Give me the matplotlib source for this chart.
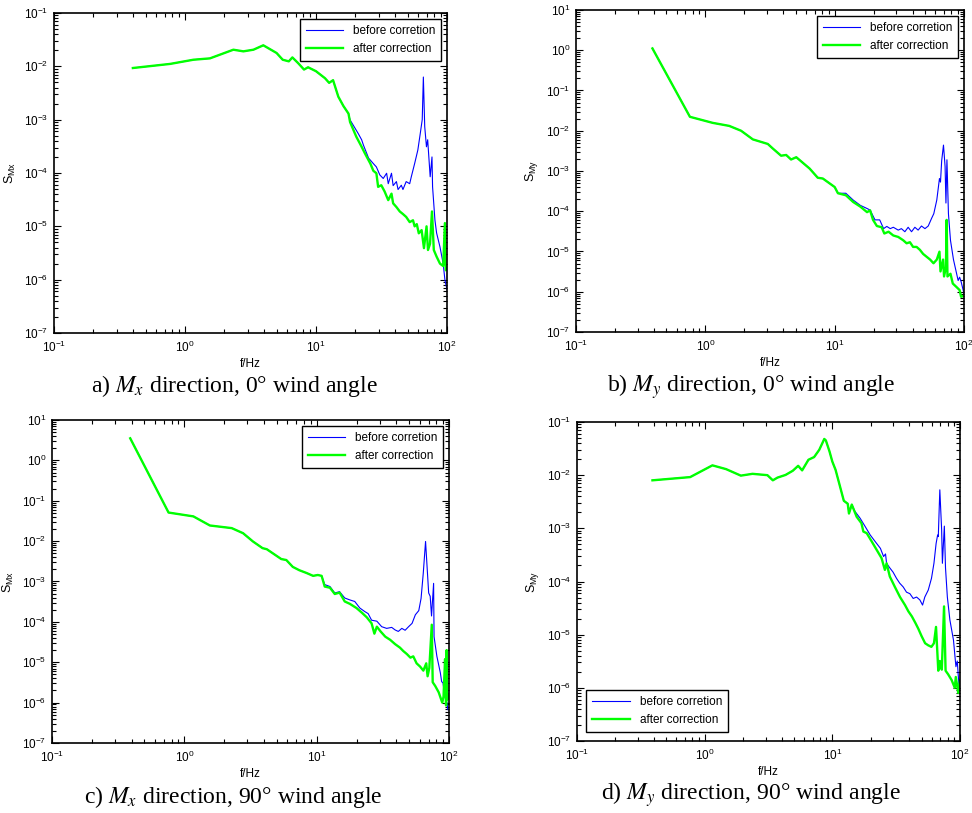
import matplotlib
matplotlib.use("Agg")
import numpy as np
import matplotlib.pyplot as plt
from matplotlib.ticker import LogLocator, NullFormatter

plt.rcParams["font.family"] = ["Liberation Sans", "DejaVu Sans"]
plt.rcParams["mathtext.fontset"] = "custom"
plt.rcParams["mathtext.rm"] = "Liberation Sans"
plt.rcParams["mathtext.it"] = "Liberation Sans:italic"
plt.rcParams["mathtext.bf"] = "Liberation Sans:bold"

# ---- panel a: Mx, 0 deg ----
a_f_common = [0.40, 0.77, 1.16, 1.55, 2.34, 2.79, 3.33, 3.96, 5.0, 5.57, 6.2, 6.6,
              7.3, 8.1, 8.7, 10.0, 11.7, 12.6, 13.5, 14.8, 16.2, 17.7]
a_s_common = [0.0093, 0.0111, 0.0133, 0.0141, 0.0205, 0.0191, 0.0205, 0.0248, 0.0178,
              0.0133, 0.0124, 0.0147, 0.0115, 0.0087, 0.0096, 0.0081, 0.0060, 0.0049,
              0.0055, 0.0027, 0.0018, 0.0013]
a_f_after = [18.2, 20.3, 22.3, 23.7, 26.0, 27.4, 28.9, 29.8, 31.5, 33.4, 35.6, 37.7,
             38.8, 41.1, 43.6, 46.1, 48.8, 51.9, 55.0, 56.6, 58.8, 60.9, 64.0, 66.7,
             69.8, 71.6, 74.2, 76.8, 79.3, 83.3, 88.4, 93.5, 96.4, 97.8, 100.0]
a_s_after = [9.0e-4, 4.8e-4, 3.1e-4, 2.3e-4, 1.5e-4, 1.1e-4, 9.9e-5, 5.5e-5, 5.9e-5,
             4.5e-5, 3.1e-5, 4.1e-5, 2.7e-5, 2.3e-5, 1.9e-5, 1.7e-5, 1.5e-5, 1.2e-5,
             1.3e-5, 1.0e-5, 1.1e-5, 7.4e-6, 8.5e-6, 3.9e-6, 1.0e-5, 3.6e-6, 4.7e-6,
             1.9e-5, 3.6e-6, 2.7e-6, 2.0e-6, 1.8e-6, 1.15e-5, 1.5e-6, 1.6e-6]
a_f_before = [18.2, 21.0, 22.3, 23.0, 25.2, 27.4, 28.9, 30.7, 32.6, 34.6, 35.6, 37.7,
              38.8, 41.1, 42.3, 44.8, 46.1, 48.8, 51.9, 53.4, 56.6, 58.2, 59.9, 62.5,
              64.7, 66.0, 67.6, 69.7, 71.2, 74.4, 76.8, 77.6, 80.9, 83.3, 88.4, 93.5,
              96.4, 100.0]
a_s_before = [9.9e-4, 5.5e-4, 4.2e-4, 3.35e-4, 1.9e-4, 1.5e-4, 1.3e-4, 9.2e-5, 7.9e-5,
              9.9e-5, 6.3e-5, 9.9e-5, 5.8e-5, 6.9e-5, 4.9e-5, 5.9e-5, 4.9e-5, 6.9e-5,
              6.3e-5, 8.5e-5, 1.5e-4, 2.0e-4, 2.7e-4, 5.5e-4, 1.0e-3, 6.3e-3, 7.4e-4,
              3.1e-4, 4.2e-4, 8.5e-5, 2.0e-4, 5.5e-5, 1.3e-5, 7.5e-6, 4.1e-6, 2.0e-6,
              9.9e-7, 6.5e-7]

# ---- panel b: My, 0 deg ----
b_f_common = [0.39, 0.76, 1.14, 1.53, 1.89, 2.33, 3.04, 3.33, 3.85, 4.22, 4.6, 5.05,
              6.4, 7.4, 8.1, 10.0, 10.6]
b_s_common = [1.11, 0.0222, 0.0157, 0.0132, 0.0100, 0.0061, 0.0047, 0.0036, 0.0024,
              0.0025, 0.00193, 0.0022, 0.00115, 6.8e-4, 6.5e-4, 4.0e-4, 2.8e-4]
b_f_after = [12.2, 13.9, 15.8, 17.8, 18.8, 19.8, 21.2, 23.1, 24.2, 26.1, 28.4, 31.0,
             33.9, 36.0, 38.2, 40.4, 43.0, 45.6, 48.3, 51.4, 54.7, 58.1, 61.6, 64.6,
             65.8, 68.9, 70.1, 72.5, 73.4, 74.5, 78.6, 81.9, 87.7, 92.5, 94.9, 100.0]
b_s_after = [2.5e-4, 1.7e-4, 1.3e-4, 9.5e-5, 1.05e-4, 6.1e-5, 4.3e-5, 4.0e-5, 2.8e-5,
             3.1e-5, 2.5e-5, 2.3e-5, 1.9e-5, 1.6e-5, 1.7e-5, 1.3e-5, 1.3e-5, 1.1e-5,
             8.7e-6, 7.4e-6, 6.3e-6, 5.1e-6, 6.3e-6, 9.9e-6, 3.2e-6, 6.3e-6, 2.4e-6,
             4.1e-6, 6.1e-5, 2.4e-6, 2.8e-6, 1.6e-6, 1.3e-6, 1.1e-6, 7.5e-7, 8.0e-7]
b_f_before = [12.2, 13.9, 15.8, 17.8, 18.8, 20.5, 22.3, 23.9, 25.3, 26.9, 28.4, 31.0,
              32.8, 34.9, 37.0, 39.3, 41.7, 44.2, 46.9, 49.9, 52.9, 56.2, 58.4, 61.6,
              64.6, 65.8, 67.2, 69.4, 71.4, 72.5, 73.8, 75.8, 78.6, 82.9, 87.7, 90.1,
              92.5, 94.9, 100.0]
b_s_before = [2.8e-4, 1.9e-4, 1.4e-4, 1.17e-4, 1.07e-4, 6.1e-5, 6.1e-5, 3.7e-5, 4.2e-5,
              3.7e-5, 4.0e-5, 3.4e-5, 3.7e-5, 3.1e-5, 4.0e-5, 3.1e-5, 4.0e-5, 3.4e-5,
              4.3e-5, 3.7e-5, 4.3e-5, 6.7e-5, 8.7e-5, 1.9e-4, 6.5e-4, 5.3e-4, 1.8e-3,
              4.4e-3, 1.3e-3, 1.6e-4, 1.9e-3, 8.7e-5, 1.9e-5, 6.3e-6, 2.8e-6, 1.9e-6,
              2.3e-6, 1.8e-6, 9.0e-7]

# ---- panel c: Mx, 90 deg ----
c_f_common = [0.39, 0.76, 1.17, 1.56, 2.28, 2.78, 3.3, 3.9, 4.2, 5.4, 5.9, 6.6, 7.4,
              8.4, 9.4, 10.2, 10.9]
c_s_common = [3.52, 0.051, 0.041, 0.0244, 0.021, 0.0157, 0.0098, 0.0067, 0.0063,
              0.0036, 0.0034, 0.0023, 0.0019, 0.00162, 0.00138, 0.00145, 0.00138]
c_f_after = [11.5, 12.6, 13.7, 14.9, 16.3, 17.8, 20.0, 21.9, 23.9, 26.0, 27.3, 28.5,
             30.4, 33.0, 35.9, 39.2, 42.6, 45.1, 48.0, 51.1, 53.7, 56.9, 60.5, 64.0,
             67.3, 68.9, 71.0, 74.1, 75.3, 78.6, 83.6, 88.9, 90.9, 93.4, 95.0, 96.0,
             97.4, 100.0]
c_s_after = [7.5e-4, 7.0e-4, 4.9e-4, 5.3e-4, 3.2e-4, 2.8e-4, 2.2e-4, 1.7e-4, 1.3e-4,
             9.2e-5, 5.1e-5, 7.6e-5, 5.8e-5, 4.3e-5, 3.6e-5, 2.8e-5, 2.3e-5, 1.9e-5,
             1.6e-5, 1.3e-5, 1.4e-5, 9.4e-6, 7.8e-6, 6.2e-6, 9.4e-6, 4.5e-6, 7.2e-6,
             8.5e-5, 3.2e-6, 2.6e-6, 1.8e-6, 1.0e-6, 1.4e-6, 1.2e-5, 8.5e-7, 2.0e-5,
             1.2e-6, 1.6e-6]
c_f_before = [11.5, 12.6, 13.7, 14.9, 16.3, 17.8, 19.4, 21.2, 23.1, 24.5, 26.0, 28.5,
              31.0, 33.8, 36.9, 39.2, 41.4, 44.0, 46.6, 49.5, 52.6, 55.7, 59.1, 61.5,
              63.9, 66.5, 68.3, 70.2, 72.1, 73.8, 76.5, 77.1, 81.0, 86.0, 88.0, 90.0,
              93.2, 96.5, 98.0]
c_s_before = [8.4e-4, 7.5e-4, 5.2e-4, 5.6e-4, 3.9e-4, 3.5e-4, 3.2e-4, 2.2e-4, 1.8e-4,
              1.6e-4, 1.1e-4, 1.04e-4, 7.6e-5, 6.9e-5, 7.3e-5, 6.3e-5, 5.8e-5, 6.9e-5,
              6.2e-5, 7.6e-5, 9.2e-5, 1.5e-4, 1.9e-4, 3.8e-4, 1.6e-3, 9.8e-3, 2.3e-3,
              5.2e-4, 4.3e-4, 1.4e-4, 9.0e-4, 4.3e-5, 1.4e-5, 5.5e-6, 3.3e-6, 3.1e-6,
              1.4e-6, 1.0e-6, 6.7e-7]

# ---- panel d: My, 90 deg ----
d_f_common = [0.39, 0.77, 1.15, 1.47, 1.92, 2.37, 3.1, 3.42, 3.72, 4.3, 4.9, 5.4, 5.8,
              6.5, 7.2, 7.9, 8.65, 8.9, 9.5, 10.0, 10.6, 11.3, 12.3, 13.2, 13.5, 14.2]
d_s_common = [0.0080, 0.0092, 0.0153, 0.0130, 0.0098, 0.0106, 0.0100, 0.0080, 0.0090,
              0.0101, 0.0121, 0.0150, 0.0123, 0.0195, 0.0219, 0.030, 0.048, 0.045,
              0.028, 0.018, 0.0126, 0.0071, 0.0033, 0.0029, 0.0019, 0.0028]
d_f_after = [15.5, 16.9, 17.5, 18.6, 20.4, 22.3, 24.3, 25.8, 26.6, 28.2, 30.9, 33.9,
             37.1, 39.4, 42.0, 44.8, 47.1, 50.0, 53.3, 56.4, 59.7, 62.5, 64.9, 67.6,
             69.5, 72.0, 75.0, 77.1, 80.7, 86.0, 91.0, 92.7, 97.0, 100.0]
d_s_after = [1.65e-3, 1.25e-3, 8.7e-4, 8.1e-4, 5.6e-4, 3.9e-4, 2.75e-4, 1.65e-4, 2.2e-4,
             1.24e-4, 7.9e-5, 5.1e-5, 3.6e-5, 2.75e-5, 2.2e-5, 1.65e-5, 1.3e-5, 9.4e-6,
             6.9e-6, 6.3e-6, 5.9e-6, 6.9e-6, 1.4e-5, 2.1e-6, 3.2e-6, 2.2e-6, 3.4e-5,
             2.1e-6, 1.8e-6, 1.4e-6, 1.0e-6, 1.6e-6, 8.0e-7, 1.4e-6]
d_f_before = [15.0, 16.5, 18.0, 19.8, 21.7, 23.8, 25.2, 26.1, 26.6, 28.2, 29.9, 31.8,
              33.7, 35.9, 38.1, 40.5, 43.0, 45.7, 48.5, 50.9, 53.0, 56.4, 59.8, 62.5,
              65.0, 66.8, 67.6, 69.5, 71.8, 72.8, 75.4, 77.0, 79.6, 83.3, 88.9, 92.9,
              95.2, 98.4, 100.0]
d_s_before = [2.1e-3, 1.55e-3, 1.1e-3, 7.5e-4, 5.6e-4, 4.2e-4, 2.95e-4, 3.3e-4, 2.2e-4,
              1.8e-4, 1.5e-4, 1.15e-4, 9.3e-5, 7.9e-5, 6.3e-5, 5.9e-5, 4.8e-5, 5.1e-5,
              4.5e-5, 3.6e-5, 5.1e-5, 6.9e-5, 1.15e-4, 2.2e-4, 5.2e-4, 7.5e-4, 7.0e-4,
              5.3e-3, 9.4e-4, 2.2e-4, 1.1e-3, 1.8e-4, 5.1e-5, 1.9e-5, 7.9e-6, 2.5e-6,
              3.2e-6, 1.0e-6, 1.1e-6]

labels = ["before corretion", "after correction"]
ylabels = [r"$\mathregular{S_{Mx}}$", r"$\mathregular{S_{My}}$",
           r"$\mathregular{S_{Mx}}$", r"$\mathregular{S_{My}}$"]
captions = [r"a) $M_x$ direction, 0° wind angle", r"b) $M_y$ direction, 0° wind angle",
            r"c) $M_x$ direction, 90° wind angle", r"d) $M_y$ direction, 90° wind angle"]

panels = [
    (a_f_common, a_s_common, a_f_before, a_s_before, a_f_after, a_s_after, (1e-7, 1e-1)),
    (b_f_common, b_s_common, b_f_before, b_s_before, b_f_after, b_s_after, (1e-7, 1e1)),
    (c_f_common, c_s_common, c_f_before, c_s_before, c_f_after, c_s_after, (1e-7, 1e1)),
    (d_f_common, d_s_common, d_f_before, d_s_before, d_f_after, d_s_after, (1e-7, 1e-1)),
]

W, H = 972, 813
boxes_px = [(54, 13, 447, 333), (576, 10, 964, 332), (52, 420, 449, 743), (577, 422, 960, 741)]
caption_px = [(234, 386), (751, 387), (233, 797), (751, 795)]
legend_loc = ["upper right", "upper right", "upper right", "lower left"]
legend_pad = [0.5, 0.5, 0.5, 0.8]

fig = plt.figure(figsize=(W / 100, H / 100), dpi=100)

for i, (fc, sc, fb, sb, fa, sa, ylim) in enumerate(panels):
    l, t, r, b = boxes_px[i]
    ax = fig.add_axes([l / W, 1 - b / H, (r - l) / W, (b - t) / H])
    ax.plot(fc + fb, sc + sb, color="#0000ff", lw=0.8, label=labels[0])
    ax.plot(fc + fa, sc + sa, color="#00ff00", lw=1.7, label=labels[1])
    ax.set_xscale("log")
    ax.set_yscale("log")
    ax.set_xlim(0.1, 100)
    ax.set_ylim(*ylim)
    ax.xaxis.set_major_locator(LogLocator(base=10, numticks=100))
    ax.yaxis.set_major_locator(LogLocator(base=10, numticks=100))
    ax.xaxis.set_minor_locator(LogLocator(base=10, subs=np.arange(2, 10), numticks=100))
    ax.yaxis.set_minor_locator(LogLocator(base=10, subs=np.arange(2, 10), numticks=100))
    ax.xaxis.set_minor_formatter(NullFormatter())
    ax.yaxis.set_minor_formatter(NullFormatter())
    ax.tick_params(which="both", direction="in", top=True, right=True, labelsize=8.5,
                   width=0.8)
    ax.tick_params(axis="x", which="both", pad=5)
    ax.tick_params(axis="y", which="both", pad=4)
    ax.tick_params(which="major", length=5)
    ax.tick_params(which="minor", length=3)
    for sp in ax.spines.values():
        sp.set_linewidth(1.2)
    ax.set_xlabel("f/Hz", fontsize=8.5, labelpad=2)
    ax.set_ylabel(ylabels[i], fontsize=9, labelpad=4)
    leg = ax.legend(loc=legend_loc[i], fontsize=8.5, fancybox=False, framealpha=1,
                    edgecolor="black", handlelength=3.2, handletextpad=0.8,
                    borderpad=0.5, labelspacing=0.5, borderaxespad=legend_pad[i])
    leg.get_frame().set_linewidth(1.0)
    cx, cy = caption_px[i]
    fig.text(cx / W, 1 - cy / H, captions[i], ha="center", va="center", fontsize=17,
             family=["Liberation Serif", "DejaVu Serif"], math_fontfamily="stix")

fig.savefig("out.png", dpi=100)
